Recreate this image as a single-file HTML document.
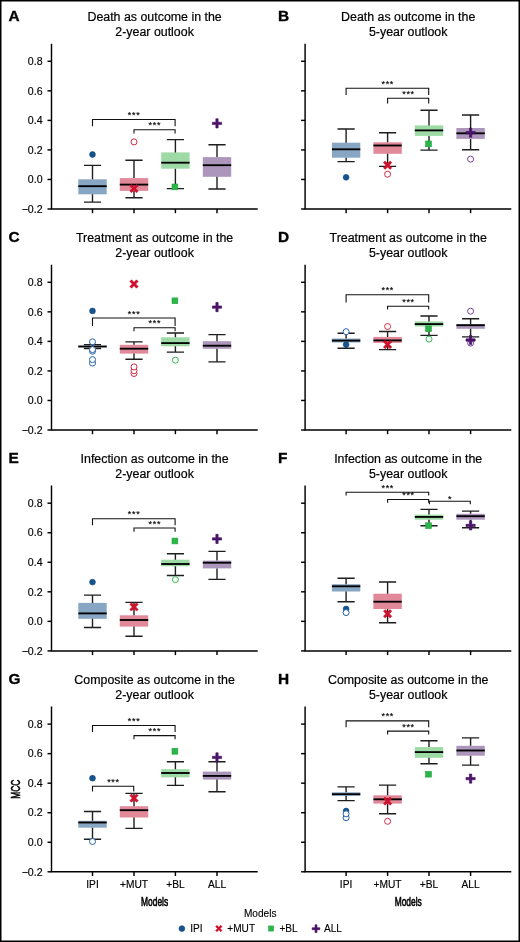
<!DOCTYPE html>
<html><head><meta charset="utf-8"><style>
html,body{margin:0;padding:0;background:#fff;}
body{width:520px;height:942px;overflow:hidden;}
svg{display:block;will-change:transform;font-family:"Liberation Sans",sans-serif;}
.pl{font-size:15.4px;font-weight:bold;fill:#000;stroke:#000;stroke-width:0.35;}
.tt{font-size:12.4px;fill:#000;stroke:#000;stroke-width:0.2;text-anchor:middle;}
.yt{font-size:10.6px;fill:#000;stroke:#000;stroke-width:0.15;text-anchor:end;}
.xt{font-size:10.2px;fill:#000;stroke:#000;stroke-width:0.15;text-anchor:middle;}
.xl{font-size:12px;fill:#000;stroke:#000;stroke-width:0.6;text-anchor:middle;}
.lg{font-size:10.1px;fill:#000;stroke:#000;stroke-width:0.12;}
.st{font-size:9px;fill:#000;stroke:#000;stroke-width:0.15;letter-spacing:0.7px;text-anchor:middle;}
.ax{stroke:#000;stroke-width:1.45;fill:none;}
.br{stroke:#111;stroke-width:1.1;fill:none;}
.wk{stroke:#1e1e1e;stroke-width:1.4;fill:none;}
.md{stroke:#000;stroke-width:1.85;fill:none;}
</style></head><body>
<svg width="520" height="942" viewBox="0 0 520 942">
<rect x="0.75" y="0.75" width="518.5" height="940.5" fill="#fff" stroke="#000" stroke-width="1.5"/>
<text x="8.5" y="20.55" class="pl">A</text>
<text x="154.60" y="0" class="tt" transform="translate(0,20.80) scale(1,1.05)">Death as outcome in the</text>
<text x="154.60" y="0" class="tt" transform="translate(0,35.80) scale(1,1.05)">2-year outlook</text>
<path d="M51.5,43.70V209.00H257.70" class="ax"/>
<path d="M47.50,61.30H51.5" class="ax"/>
<text x="42.60" y="65.00" class="yt">0.8</text>
<path d="M47.50,90.84H51.5" class="ax"/>
<text x="42.60" y="94.54" class="yt">0.6</text>
<path d="M47.50,120.38H51.5" class="ax"/>
<text x="42.60" y="124.08" class="yt">0.4</text>
<path d="M47.50,149.92H51.5" class="ax"/>
<text x="42.60" y="153.62" class="yt">0.2</text>
<path d="M47.50,179.46H51.5" class="ax"/>
<text x="42.60" y="183.16" class="yt">0.0</text>
<path d="M47.50,209.00H51.5" class="ax"/>
<text x="42.60" y="212.70" class="yt">−0.2</text>
<path d="M92.50,209.00V213.20" class="ax"/>
<path d="M134.00,209.00V213.20" class="ax"/>
<path d="M175.40,209.00V213.20" class="ax"/>
<path d="M217.00,209.00V213.20" class="ax"/>
<path d="M92.50,126.20V119.50H175.10V126.20" class="br"/>
<text x="134.15" y="118.00" class="st">***</text>
<path d="M134.00,133.40V129.70H175.10V133.40" class="br"/>
<text x="154.90" y="128.20" class="st">***</text>
<rect x="78.30" y="179.30" width="28.40" height="15.00" fill="#87a6c3"/>
<path d="M92.50,179.30V165.40M83.90,165.40H101.10M92.50,194.30V202.10M83.90,202.10H101.10" class="wk"/>
<path d="M78.30,186.20H106.70" class="md"/>
<rect x="119.80" y="178.10" width="28.40" height="12.80" fill="#e18998"/>
<path d="M134.00,178.10V160.20M125.40,160.20H142.60M134.00,190.90V197.80M125.40,197.80H142.60" class="wk"/>
<path d="M119.80,184.60H148.20" class="md"/>
<rect x="161.20" y="152.40" width="28.40" height="16.30" fill="#9ddaa5"/>
<path d="M175.40,152.40V139.60M166.80,139.60H184.00M175.40,168.70V188.60M166.80,188.60H184.00" class="wk"/>
<path d="M161.20,162.70H189.60" class="md"/>
<rect x="202.80" y="157.10" width="28.40" height="19.70" fill="#ad96bc"/>
<path d="M217.00,157.10V144.80M208.40,144.80H225.60M217.00,176.80V189.00M208.40,189.00H225.60" class="wk"/>
<path d="M202.80,165.20H231.20" class="md"/>
<circle cx="92.50" cy="154.50" r="2.9" fill="#16548c" stroke="#0b4585" stroke-width="0.6"/>
<polygon points="138.20,191.08 136.48,192.80 134.00,190.32 131.52,192.80 129.80,191.08 132.28,188.60 129.80,186.12 131.52,184.40 134.00,186.88 136.48,184.40 138.20,186.12 135.72,188.60" fill="#d0102c" stroke="#c8001f" stroke-width="0.5" stroke-linejoin="miter"/>
<rect x="172.00" y="184.00" width="5.8" height="5.8" fill="#2db54a" stroke="#1aa83a" stroke-width="0.6"/>
<path d="M212.40,122.25H215.85V118.80H218.15V122.25H221.60V124.55H218.15V128.00H215.85V124.55H212.40Z" fill="#4c1469" stroke="#3d0a5c" stroke-width="0.6"/>
<circle cx="134.00" cy="141.90" r="3.0" fill="#fff" stroke="#d42a48" stroke-width="1.0"/>
<text x="278.0" y="20.55" class="pl">B</text>
<text x="408.20" y="0" class="tt" transform="translate(0,20.80) scale(1,1.05)">Death as outcome in the</text>
<text x="408.20" y="0" class="tt" transform="translate(0,35.80) scale(1,1.05)">5-year outlook</text>
<path d="M305.1,43.70V209.00H511.30" class="ax"/>
<path d="M301.10,61.30H305.1" class="ax"/>
<path d="M301.10,90.84H305.1" class="ax"/>
<path d="M301.10,120.38H305.1" class="ax"/>
<path d="M301.10,149.92H305.1" class="ax"/>
<path d="M301.10,179.46H305.1" class="ax"/>
<path d="M301.10,209.00H305.1" class="ax"/>
<path d="M346.10,209.00V213.20" class="ax"/>
<path d="M387.60,209.00V213.20" class="ax"/>
<path d="M429.00,209.00V213.20" class="ax"/>
<path d="M470.60,209.00V213.20" class="ax"/>
<path d="M346.10,95.00V88.20H428.70V95.00" class="br"/>
<text x="387.75" y="86.70" class="st">***</text>
<path d="M387.60,103.40V98.20H428.70V103.40" class="br"/>
<text x="408.50" y="96.70" class="st">***</text>
<rect x="331.90" y="142.70" width="28.40" height="15.00" fill="#87a6c3"/>
<path d="M346.10,142.70V129.00M337.50,129.00H354.70M346.10,157.70V161.60M337.50,161.60H354.70" class="wk"/>
<path d="M331.90,149.30H360.30" class="md"/>
<rect x="373.40" y="142.30" width="28.40" height="11.50" fill="#e18998"/>
<path d="M387.60,142.30V132.70M379.00,132.70H396.20M387.60,153.80V166.40M379.00,166.40H396.20" class="wk"/>
<path d="M373.40,145.50H401.80" class="md"/>
<rect x="414.80" y="125.40" width="28.40" height="10.50" fill="#9ddaa5"/>
<path d="M429.00,125.40V110.20M420.40,110.20H437.60M429.00,135.90V150.10M420.40,150.10H437.60" class="wk"/>
<path d="M414.80,130.40H443.20" class="md"/>
<rect x="456.40" y="128.00" width="28.40" height="10.90" fill="#ad96bc"/>
<path d="M470.60,128.00V115.00M462.00,115.00H479.20M470.60,138.90V149.80M462.00,149.80H479.20" class="wk"/>
<path d="M456.40,133.30H484.80" class="md"/>
<circle cx="387.60" cy="174.20" r="3.0" fill="#fff" stroke="#d42a48" stroke-width="1.0"/>
<circle cx="470.60" cy="159.10" r="3.0" fill="#fff" stroke="#76449a" stroke-width="1.0"/>
<circle cx="346.10" cy="177.30" r="2.9" fill="#16548c" stroke="#0b4585" stroke-width="0.6"/>
<polygon points="391.80,167.68 390.08,169.40 387.60,166.92 385.12,169.40 383.40,167.68 385.88,165.20 383.40,162.72 385.12,161.00 387.60,163.48 390.08,161.00 391.80,162.72 389.32,165.20" fill="#d0102c" stroke="#c8001f" stroke-width="0.5" stroke-linejoin="miter"/>
<rect x="425.60" y="141.00" width="5.8" height="5.8" fill="#2db54a" stroke="#1aa83a" stroke-width="0.6"/>
<path d="M466.00,131.55H469.45V128.10H471.75V131.55H475.20V133.85H471.75V137.30H469.45V133.85H466.00Z" fill="#4c1469" stroke="#3d0a5c" stroke-width="0.6"/>
<text x="8.5" y="241.55" class="pl">C</text>
<text x="154.60" y="0" class="tt" transform="translate(0,241.80) scale(1,1.05)">Treatment as outcome in the</text>
<text x="154.60" y="0" class="tt" transform="translate(0,256.80) scale(1,1.05)">2-year outlook</text>
<path d="M51.5,264.70V430.00H257.70" class="ax"/>
<path d="M47.50,282.30H51.5" class="ax"/>
<text x="42.60" y="286.00" class="yt">0.8</text>
<path d="M47.50,311.84H51.5" class="ax"/>
<text x="42.60" y="315.54" class="yt">0.6</text>
<path d="M47.50,341.38H51.5" class="ax"/>
<text x="42.60" y="345.08" class="yt">0.4</text>
<path d="M47.50,370.92H51.5" class="ax"/>
<text x="42.60" y="374.62" class="yt">0.2</text>
<path d="M47.50,400.46H51.5" class="ax"/>
<text x="42.60" y="404.16" class="yt">0.0</text>
<path d="M47.50,430.00H51.5" class="ax"/>
<text x="42.60" y="433.70" class="yt">−0.2</text>
<path d="M92.50,430.00V434.20" class="ax"/>
<path d="M134.00,430.00V434.20" class="ax"/>
<path d="M175.40,430.00V434.20" class="ax"/>
<path d="M217.00,430.00V434.20" class="ax"/>
<path d="M92.50,325.90V318.00H175.10V325.90" class="br"/>
<text x="134.15" y="316.50" class="st">***</text>
<path d="M134.00,331.30V327.80H175.10V331.30" class="br"/>
<text x="154.90" y="326.30" class="st">***</text>
<rect x="78.30" y="345.80" width="28.40" height="1.50" fill="#87a6c3"/>
<path d="M92.50,345.80V344.60M83.90,344.60H101.10M92.50,347.30V348.50M83.90,348.50H101.10" class="wk"/>
<path d="M78.30,346.50H106.70" class="md"/>
<rect x="119.80" y="344.80" width="28.40" height="8.80" fill="#e18998"/>
<path d="M134.00,344.80V341.90M125.40,341.90H142.60M134.00,353.60V359.20M125.40,359.20H142.60" class="wk"/>
<path d="M119.80,348.70H148.20" class="md"/>
<rect x="161.20" y="337.30" width="28.40" height="9.00" fill="#9ddaa5"/>
<path d="M175.40,337.30V333.00M166.80,333.00H184.00M175.40,346.30V352.10M166.80,352.10H184.00" class="wk"/>
<path d="M161.20,343.10H189.60" class="md"/>
<rect x="202.80" y="341.20" width="28.40" height="7.60" fill="#ad96bc"/>
<path d="M217.00,341.20V334.60M208.40,334.60H225.60M217.00,348.80V361.90M208.40,361.90H225.60" class="wk"/>
<path d="M202.80,345.70H231.20" class="md"/>
<circle cx="92.50" cy="363.10" r="3.0" fill="#fff" stroke="#2563a6" stroke-width="1.0"/>
<circle cx="92.50" cy="359.60" r="3.0" fill="#fff" stroke="#2563a6" stroke-width="1.0"/>
<circle cx="92.50" cy="351.20" r="3.0" fill="#fff" stroke="#2563a6" stroke-width="1.0"/>
<circle cx="92.50" cy="349.60" r="3.0" fill="#fff" stroke="#2563a6" stroke-width="1.0"/>
<circle cx="92.50" cy="341.80" r="3.0" fill="#fff" stroke="#2563a6" stroke-width="1.0"/>
<circle cx="134.00" cy="373.50" r="3.0" fill="#fff" stroke="#d42a48" stroke-width="1.0"/>
<circle cx="134.00" cy="370.80" r="3.0" fill="#fff" stroke="#d42a48" stroke-width="1.0"/>
<circle cx="134.00" cy="366.90" r="3.0" fill="#fff" stroke="#d42a48" stroke-width="1.0"/>
<circle cx="175.40" cy="360.20" r="3.0" fill="#fff" stroke="#33b84e" stroke-width="1.0"/>
<circle cx="92.50" cy="310.90" r="2.9" fill="#16548c" stroke="#0b4585" stroke-width="0.6"/>
<polygon points="138.20,286.48 136.48,288.20 134.00,285.72 131.52,288.20 129.80,286.48 132.28,284.00 129.80,281.52 131.52,279.80 134.00,282.28 136.48,279.80 138.20,281.52 135.72,284.00" fill="#d0102c" stroke="#c8001f" stroke-width="0.5" stroke-linejoin="miter"/>
<rect x="172.00" y="297.90" width="5.8" height="5.8" fill="#2db54a" stroke="#1aa83a" stroke-width="0.6"/>
<path d="M212.40,305.95H215.85V302.50H218.15V305.95H221.60V308.25H218.15V311.70H215.85V308.25H212.40Z" fill="#4c1469" stroke="#3d0a5c" stroke-width="0.6"/>
<text x="278.0" y="241.55" class="pl">D</text>
<text x="408.20" y="0" class="tt" transform="translate(0,241.80) scale(1,1.05)">Treatment as outcome in the</text>
<text x="408.20" y="0" class="tt" transform="translate(0,256.80) scale(1,1.05)">5-year outlook</text>
<path d="M305.1,264.70V430.00H511.30" class="ax"/>
<path d="M301.10,282.30H305.1" class="ax"/>
<path d="M301.10,311.84H305.1" class="ax"/>
<path d="M301.10,341.38H305.1" class="ax"/>
<path d="M301.10,370.92H305.1" class="ax"/>
<path d="M301.10,400.46H305.1" class="ax"/>
<path d="M301.10,430.00H305.1" class="ax"/>
<path d="M346.10,430.00V434.20" class="ax"/>
<path d="M387.60,430.00V434.20" class="ax"/>
<path d="M429.00,430.00V434.20" class="ax"/>
<path d="M470.60,430.00V434.20" class="ax"/>
<path d="M346.10,302.50V294.70H428.70V302.50" class="br"/>
<text x="387.75" y="293.20" class="st">***</text>
<path d="M387.60,309.40V306.30H428.70V309.40" class="br"/>
<text x="408.50" y="304.80" class="st">***</text>
<rect x="331.90" y="338.50" width="28.40" height="4.00" fill="#87a6c3"/>
<path d="M346.10,338.50V333.20M337.50,333.20H354.70M346.10,342.50V348.30M337.50,348.30H354.70" class="wk"/>
<path d="M331.90,340.60H360.30" class="md"/>
<rect x="373.40" y="336.90" width="28.40" height="6.00" fill="#e18998"/>
<path d="M387.60,336.90V331.50M379.00,331.50H396.20M387.60,342.90V349.60M379.00,349.60H396.20" class="wk"/>
<path d="M373.40,340.40H401.80" class="md"/>
<rect x="414.80" y="321.40" width="28.40" height="5.10" fill="#9ddaa5"/>
<path d="M429.00,321.40V316.00M420.40,316.00H437.60M429.00,326.50V335.40M420.40,335.40H437.60" class="wk"/>
<path d="M414.80,324.10H443.20" class="md"/>
<rect x="456.40" y="324.20" width="28.40" height="4.60" fill="#ad96bc"/>
<path d="M470.60,324.20V318.80M462.00,318.80H479.20M470.60,328.80V336.90M462.00,336.90H479.20" class="wk"/>
<path d="M456.40,325.20H484.80" class="md"/>
<circle cx="346.10" cy="331.70" r="3.0" fill="#fff" stroke="#2563a6" stroke-width="1.0"/>
<circle cx="387.60" cy="326.50" r="3.0" fill="#fff" stroke="#d42a48" stroke-width="1.0"/>
<circle cx="429.00" cy="339.10" r="3.0" fill="#fff" stroke="#33b84e" stroke-width="1.0"/>
<circle cx="470.60" cy="343.10" r="3.0" fill="#fff" stroke="#76449a" stroke-width="1.0"/>
<circle cx="470.60" cy="311.20" r="3.0" fill="#fff" stroke="#76449a" stroke-width="1.0"/>
<circle cx="346.10" cy="344.60" r="2.9" fill="#16548c" stroke="#0b4585" stroke-width="0.6"/>
<polygon points="391.80,346.98 390.08,348.70 387.60,346.22 385.12,348.70 383.40,346.98 385.88,344.50 383.40,342.02 385.12,340.30 387.60,342.78 390.08,340.30 391.80,342.02 389.32,344.50" fill="#d0102c" stroke="#c8001f" stroke-width="0.5" stroke-linejoin="miter"/>
<rect x="425.60" y="325.90" width="5.8" height="5.8" fill="#2db54a" stroke="#1aa83a" stroke-width="0.6"/>
<path d="M466.00,338.85H469.45V335.40H471.75V338.85H475.20V341.15H471.75V344.60H469.45V341.15H466.00Z" fill="#4c1469" stroke="#3d0a5c" stroke-width="0.6"/>
<text x="8.5" y="462.80" class="pl">E</text>
<text x="154.60" y="0" class="tt" transform="translate(0,462.70) scale(1,1.05)">Infection as outcome in the</text>
<text x="154.60" y="0" class="tt" transform="translate(0,477.70) scale(1,1.05)">2-year outlook</text>
<path d="M51.5,485.60V650.90H257.70" class="ax"/>
<path d="M47.50,503.20H51.5" class="ax"/>
<text x="42.60" y="506.90" class="yt">0.8</text>
<path d="M47.50,532.74H51.5" class="ax"/>
<text x="42.60" y="536.44" class="yt">0.6</text>
<path d="M47.50,562.28H51.5" class="ax"/>
<text x="42.60" y="565.98" class="yt">0.4</text>
<path d="M47.50,591.82H51.5" class="ax"/>
<text x="42.60" y="595.52" class="yt">0.2</text>
<path d="M47.50,621.36H51.5" class="ax"/>
<text x="42.60" y="625.06" class="yt">0.0</text>
<path d="M47.50,650.90H51.5" class="ax"/>
<text x="42.60" y="654.60" class="yt">−0.2</text>
<path d="M92.50,650.90V655.10" class="ax"/>
<path d="M134.00,650.90V655.10" class="ax"/>
<path d="M175.40,650.90V655.10" class="ax"/>
<path d="M217.00,650.90V655.10" class="ax"/>
<path d="M92.50,525.20V518.70H175.10V525.20" class="br"/>
<text x="134.15" y="517.20" class="st">***</text>
<path d="M134.00,531.80V528.00H175.10V531.80" class="br"/>
<text x="154.90" y="526.50" class="st">***</text>
<rect x="78.30" y="602.90" width="28.40" height="15.90" fill="#87a6c3"/>
<path d="M92.50,602.90V595.10M83.90,595.10H101.10M92.50,618.80V627.50M83.90,627.50H101.10" class="wk"/>
<path d="M78.30,613.40H106.70" class="md"/>
<rect x="119.80" y="615.30" width="28.40" height="11.30" fill="#e18998"/>
<path d="M134.00,615.30V602.40M125.40,602.40H142.60M134.00,626.60V636.30M125.40,636.30H142.60" class="wk"/>
<path d="M119.80,620.00H148.20" class="md"/>
<rect x="161.20" y="559.70" width="28.40" height="6.60" fill="#9ddaa5"/>
<path d="M175.40,559.70V553.70M166.80,553.70H184.00M175.40,566.30V575.50M166.80,575.50H184.00" class="wk"/>
<path d="M161.20,564.00H189.60" class="md"/>
<rect x="202.80" y="560.60" width="28.40" height="7.80" fill="#ad96bc"/>
<path d="M217.00,560.60V551.40M208.40,551.40H225.60M217.00,568.40V579.40M208.40,579.40H225.60" class="wk"/>
<path d="M202.80,562.70H231.20" class="md"/>
<circle cx="175.40" cy="579.60" r="3.0" fill="#fff" stroke="#33b84e" stroke-width="1.0"/>
<circle cx="92.50" cy="582.10" r="2.9" fill="#16548c" stroke="#0b4585" stroke-width="0.6"/>
<polygon points="138.20,609.38 136.48,611.10 134.00,608.62 131.52,611.10 129.80,609.38 132.28,606.90 129.80,604.42 131.52,602.70 134.00,605.18 136.48,602.70 138.20,604.42 135.72,606.90" fill="#d0102c" stroke="#c8001f" stroke-width="0.5" stroke-linejoin="miter"/>
<rect x="172.00" y="538.10" width="5.8" height="5.8" fill="#2db54a" stroke="#1aa83a" stroke-width="0.6"/>
<path d="M212.40,537.75H215.85V534.30H218.15V537.75H221.60V540.05H218.15V543.50H215.85V540.05H212.40Z" fill="#4c1469" stroke="#3d0a5c" stroke-width="0.6"/>
<text x="278.0" y="462.80" class="pl">F</text>
<text x="408.20" y="0" class="tt" transform="translate(0,462.70) scale(1,1.05)">Infection as outcome in the</text>
<text x="408.20" y="0" class="tt" transform="translate(0,477.70) scale(1,1.05)">5-year outlook</text>
<path d="M305.1,485.60V650.90H511.30" class="ax"/>
<path d="M301.10,503.20H305.1" class="ax"/>
<path d="M301.10,532.74H305.1" class="ax"/>
<path d="M301.10,562.28H305.1" class="ax"/>
<path d="M301.10,591.82H305.1" class="ax"/>
<path d="M301.10,621.36H305.1" class="ax"/>
<path d="M301.10,650.90H305.1" class="ax"/>
<path d="M346.10,650.90V655.10" class="ax"/>
<path d="M387.60,650.90V655.10" class="ax"/>
<path d="M429.00,650.90V655.10" class="ax"/>
<path d="M470.60,650.90V655.10" class="ax"/>
<path d="M346.10,495.50V492.20H428.70V495.50" class="br"/>
<text x="387.75" y="490.70" class="st">***</text>
<path d="M387.60,502.80V499.50H428.70V502.80" class="br"/>
<text x="408.50" y="498.00" class="st">***</text>
<path d="M429.40,504.30V501.20H470.30V504.30" class="br"/>
<text x="450.20" y="502.00" class="st">*</text>
<rect x="331.90" y="584.20" width="28.40" height="7.30" fill="#87a6c3"/>
<path d="M346.10,584.20V578.20M337.50,578.20H354.70M346.10,591.50V601.80M337.50,601.80H354.70" class="wk"/>
<path d="M331.90,586.30H360.30" class="md"/>
<rect x="373.40" y="593.70" width="28.40" height="15.30" fill="#e18998"/>
<path d="M387.60,593.70V582.00M379.00,582.00H396.20M387.60,609.00V622.70M379.00,622.70H396.20" class="wk"/>
<path d="M373.40,601.70H401.80" class="md"/>
<rect x="414.80" y="514.60" width="28.40" height="5.10" fill="#9ddaa5"/>
<path d="M429.00,514.60V509.40M420.40,509.40H437.60M429.00,519.70V525.80M420.40,525.80H437.60" class="wk"/>
<path d="M414.80,516.90H443.20" class="md"/>
<rect x="456.40" y="513.80" width="28.40" height="5.90" fill="#ad96bc"/>
<path d="M470.60,513.80V511.10M462.00,511.10H479.20M470.60,519.70V527.70M462.00,527.70H479.20" class="wk"/>
<path d="M456.40,516.20H484.80" class="md"/>
<circle cx="346.10" cy="609.00" r="2.9" fill="#16548c" stroke="#0b4585" stroke-width="0.6"/>
<polygon points="391.80,616.18 390.08,617.90 387.60,615.42 385.12,617.90 383.40,616.18 385.88,613.70 383.40,611.22 385.12,609.50 387.60,611.98 390.08,609.50 391.80,611.22 389.32,613.70" fill="#d0102c" stroke="#c8001f" stroke-width="0.5" stroke-linejoin="miter"/>
<rect x="425.60" y="522.80" width="5.8" height="5.8" fill="#2db54a" stroke="#1aa83a" stroke-width="0.6"/>
<path d="M466.00,524.25H469.45V520.80H471.75V524.25H475.20V526.55H471.75V530.00H469.45V526.55H466.00Z" fill="#4c1469" stroke="#3d0a5c" stroke-width="0.6"/>
<circle cx="346.10" cy="612.60" r="3.0" fill="#fff" stroke="#2563a6" stroke-width="1.0"/>
<text x="8.5" y="683.70" class="pl">G</text>
<text x="154.60" y="0" class="tt" transform="translate(0,683.60) scale(1,1.05)">Composite as outcome in the</text>
<text x="154.60" y="0" class="tt" transform="translate(0,698.60) scale(1,1.05)">2-year outlook</text>
<path d="M51.5,706.50V871.80H257.70" class="ax"/>
<path d="M47.50,724.10H51.5" class="ax"/>
<text x="42.60" y="727.80" class="yt">0.8</text>
<path d="M47.50,753.64H51.5" class="ax"/>
<text x="42.60" y="757.34" class="yt">0.6</text>
<path d="M47.50,783.18H51.5" class="ax"/>
<text x="42.60" y="786.88" class="yt">0.4</text>
<path d="M47.50,812.72H51.5" class="ax"/>
<text x="42.60" y="816.42" class="yt">0.2</text>
<path d="M47.50,842.26H51.5" class="ax"/>
<text x="42.60" y="845.96" class="yt">0.0</text>
<path d="M47.50,871.80H51.5" class="ax"/>
<text x="42.60" y="875.50" class="yt">−0.2</text>
<path d="M92.50,871.80V876.00" class="ax"/>
<path d="M134.00,871.80V876.00" class="ax"/>
<path d="M175.40,871.80V876.00" class="ax"/>
<path d="M217.00,871.80V876.00" class="ax"/>
<path d="M92.50,732.00V725.50H175.10V732.00" class="br"/>
<text x="134.15" y="724.00" class="st">***</text>
<path d="M134.00,739.20V735.60H175.10V739.20" class="br"/>
<text x="154.90" y="734.10" class="st">***</text>
<path d="M92.50,791.40V786.30H133.70V791.60" class="br"/>
<text x="113.45" y="784.80" class="st">***</text>
<rect x="78.30" y="820.80" width="28.40" height="6.90" fill="#87a6c3"/>
<path d="M92.50,820.80V811.50M83.90,811.50H101.10M92.50,827.70V839.20M83.90,839.20H101.10" class="wk"/>
<path d="M78.30,822.50H106.70" class="md"/>
<rect x="119.80" y="806.20" width="28.40" height="11.30" fill="#e18998"/>
<path d="M134.00,806.20V793.40M125.40,793.40H142.60M134.00,817.50V828.40M125.40,828.40H142.60" class="wk"/>
<path d="M119.80,810.20H148.20" class="md"/>
<rect x="161.20" y="769.20" width="28.40" height="8.10" fill="#9ddaa5"/>
<path d="M175.40,769.20V761.70M166.80,761.70H184.00M175.40,777.30V785.40M166.80,785.40H184.00" class="wk"/>
<path d="M161.20,773.00H189.60" class="md"/>
<rect x="202.80" y="771.60" width="28.40" height="8.00" fill="#ad96bc"/>
<path d="M217.00,771.60V761.70M208.40,761.70H225.60M217.00,779.60V791.70M208.40,791.70H225.60" class="wk"/>
<path d="M202.80,775.90H231.20" class="md"/>
<circle cx="92.50" cy="841.50" r="3.0" fill="#fff" stroke="#2563a6" stroke-width="1.0"/>
<circle cx="92.50" cy="778.20" r="2.9" fill="#16548c" stroke="#0b4585" stroke-width="0.6"/>
<polygon points="138.20,800.58 136.48,802.30 134.00,799.82 131.52,802.30 129.80,800.58 132.28,798.10 129.80,795.62 131.52,793.90 134.00,796.38 136.48,793.90 138.20,795.62 135.72,798.10" fill="#d0102c" stroke="#c8001f" stroke-width="0.5" stroke-linejoin="miter"/>
<rect x="172.00" y="748.40" width="5.8" height="5.8" fill="#2db54a" stroke="#1aa83a" stroke-width="0.6"/>
<path d="M212.40,756.25H215.85V752.80H218.15V756.25H221.60V758.55H218.15V762.00H215.85V758.55H212.40Z" fill="#4c1469" stroke="#3d0a5c" stroke-width="0.6"/>
<text x="278.0" y="683.70" class="pl">H</text>
<text x="408.20" y="0" class="tt" transform="translate(0,683.60) scale(1,1.05)">Composite as outcome in the</text>
<text x="408.20" y="0" class="tt" transform="translate(0,698.60) scale(1,1.05)">5-year outlook</text>
<path d="M305.1,706.50V871.80H511.30" class="ax"/>
<path d="M301.10,724.10H305.1" class="ax"/>
<path d="M301.10,753.64H305.1" class="ax"/>
<path d="M301.10,783.18H305.1" class="ax"/>
<path d="M301.10,812.72H305.1" class="ax"/>
<path d="M301.10,842.26H305.1" class="ax"/>
<path d="M301.10,871.80H305.1" class="ax"/>
<path d="M346.10,871.80V876.00" class="ax"/>
<path d="M387.60,871.80V876.00" class="ax"/>
<path d="M429.00,871.80V876.00" class="ax"/>
<path d="M470.60,871.80V876.00" class="ax"/>
<path d="M346.10,727.20V720.90H428.70V727.20" class="br"/>
<text x="387.75" y="719.40" class="st">***</text>
<path d="M387.60,734.40V731.10H428.70V734.40" class="br"/>
<text x="408.50" y="729.60" class="st">***</text>
<rect x="331.90" y="792.30" width="28.40" height="3.50" fill="#87a6c3"/>
<path d="M346.10,792.30V786.90M337.50,786.90H354.70M346.10,795.80V800.60M337.50,800.60H354.70" class="wk"/>
<path d="M331.90,794.20H360.30" class="md"/>
<rect x="373.40" y="795.30" width="28.40" height="8.30" fill="#e18998"/>
<path d="M387.60,795.30V785.10M379.00,785.10H396.20M387.60,803.60V813.70M379.00,813.70H396.20" class="wk"/>
<path d="M373.40,799.30H401.80" class="md"/>
<rect x="414.80" y="747.10" width="28.40" height="10.70" fill="#9ddaa5"/>
<path d="M429.00,747.10V740.80M420.40,740.80H437.60M429.00,757.80V763.80M420.40,763.80H437.60" class="wk"/>
<path d="M414.80,752.10H443.20" class="md"/>
<rect x="456.40" y="745.80" width="28.40" height="9.90" fill="#ad96bc"/>
<path d="M470.60,745.80V737.90M462.00,737.90H479.20M470.60,755.70V765.10M462.00,765.10H479.20" class="wk"/>
<path d="M456.40,750.50H484.80" class="md"/>
<circle cx="346.10" cy="811.00" r="2.9" fill="#16548c" stroke="#0b4585" stroke-width="0.6"/>
<polygon points="391.80,803.58 390.08,805.30 387.60,802.82 385.12,805.30 383.40,803.58 385.88,801.10 383.40,798.62 385.12,796.90 387.60,799.38 390.08,796.90 391.80,798.62 389.32,801.10" fill="#d0102c" stroke="#c8001f" stroke-width="0.5" stroke-linejoin="miter"/>
<rect x="425.60" y="771.30" width="5.8" height="5.8" fill="#2db54a" stroke="#1aa83a" stroke-width="0.6"/>
<path d="M466.00,777.45H469.45V774.00H471.75V777.45H475.20V779.75H471.75V783.20H469.45V779.75H466.00Z" fill="#4c1469" stroke="#3d0a5c" stroke-width="0.6"/>
<circle cx="346.10" cy="817.70" r="3.0" fill="#fff" stroke="#2563a6" stroke-width="1.0"/>
<circle cx="346.10" cy="813.80" r="3.0" fill="#fff" stroke="#2563a6" stroke-width="1.0"/>
<circle cx="387.60" cy="821.30" r="3.0" fill="#fff" stroke="#d42a48" stroke-width="1.0"/>
<text x="92.50" y="888.2" class="xt">IPI</text>
<text x="134.00" y="888.2" class="xt">+MUT</text>
<text x="175.40" y="888.2" class="xt">+BL</text>
<text x="217.00" y="888.2" class="xt">ALL</text>
<text x="154.60" y="905.6" class="xl" transform="translate(154.60,0) scale(0.70,1) translate(-154.60,0)">Models</text>
<text x="346.10" y="888.2" class="xt">IPI</text>
<text x="387.60" y="888.2" class="xt">+MUT</text>
<text x="429.00" y="888.2" class="xt">+BL</text>
<text x="470.60" y="888.2" class="xt">ALL</text>
<text x="408.20" y="905.6" class="xl" transform="translate(408.20,0) scale(0.70,1) translate(-408.20,0)">Models</text>
<text x="0" y="0" class="xl" style="font-size:13.6px" transform="translate(20.1,789.2) rotate(-90) scale(0.62,1)">MCC</text>
<text x="260.2" y="916.9" class="lg" text-anchor="middle">Models</text>
<circle cx="181.9" cy="928.6" r="2.9" fill="#16548c" stroke="#0b4585" stroke-width="0.6"/>
<text x="190.3" y="931.7" class="lg">IPI</text>
<polygon points="222.05,930.44 220.74,931.75 218.85,929.86 216.96,931.75 215.65,930.44 217.54,928.55 215.65,926.66 216.96,925.35 218.85,927.24 220.74,925.35 222.05,926.66 220.16,928.55" fill="#d0102c" stroke="#c8001f" stroke-width="0.5" stroke-linejoin="miter"/>
<text x="227.3" y="931.7" class="lg">+MUT</text>
<rect x="268.5" y="925.9" width="5.2" height="5.2" fill="#2db54a" stroke="#1aa83a" stroke-width="0.5"/>
<text x="279.4" y="931.7" class="lg">+BL</text>
<path d="M312.15,927.74H315.04V924.85H316.96V927.74H319.85V929.66H316.96V932.55H315.04V929.66H312.15Z" fill="#4c1469" stroke="#3d0a5c" stroke-width="0.6"/>
<text x="324.0" y="931.7" class="lg">ALL</text>
</svg>
</body></html>
